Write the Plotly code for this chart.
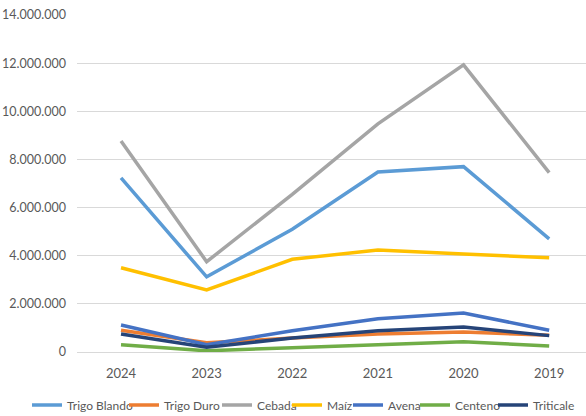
import plotly.graph_objects as go

years = ["2024", "2023", "2022", "2021", "2020", "2019"]
trigo_blando = [7230000, 3120000, 5100000, 7480000, 7700000, 4700000]
trigo_duro = [900000, 380000, 580000, 750000, 830000, 700000]
cebada = [8770000, 3750000, 6550000, 9480000, 11930000, 7450000]
maiz = [3500000, 2580000, 3850000, 4240000, 4070000, 3920000]
avena = [1120000, 300000, 880000, 1380000, 1620000, 900000]
centeno = [300000, 50000, 180000, 300000, 430000, 250000]
triticale = [750000, 200000, 580000, 880000, 1040000, 680000]

series = [
    ("Trigo Blando", trigo_blando, "#5B9BD5"),
    ("Trigo Duro", trigo_duro, "#ED7D31"),
    ("Cebada", cebada, "#A5A5A5"),
    ("Maíz", maiz, "#FFC000"),
    ("Avena", avena, "#4472C4"),
    ("Centeno", centeno, "#70AD47"),
    ("Triticale", triticale, "#264478"),
]
# x (px) where each legend entry's label text starts
legend_text_x = [67, 164, 257, 327, 388, 455, 533]

W, H = 586, 416
fig = go.Figure()
legends = {}
for i, (name, vals, color) in enumerate(series):
    key = "legend" if i == 0 else f"legend{i+1}"
    fig.add_trace(go.Scatter(x=years, y=vals, name=name, mode="lines",
                             line=dict(color=color, width=3.5), legend=key))
    legends[key] = dict(orientation="h", xref="container", yref="container",
                        x=(legend_text_x[i] - 40) / W, xanchor="left",
                        y=(H - 405) / H, yanchor="middle",
                        bgcolor="rgba(0,0,0,0)", borderwidth=0,
                        font=dict(family="Lato", size=12, color="#595959"),
                        itemwidth=30, itemclick=False, itemdoubleclick=False)

fig.update_layout(
    width=W, height=H,
    margin=dict(l=77, r=0, t=15, b=64, autoexpand=False),
    paper_bgcolor="white", plot_bgcolor="white",
    separators=",.",
    font=dict(family="Lato", size=13, color="#595959"),
    showlegend=True,
    xaxis=dict(type="category", range=[-0.514, 5.43], showgrid=False,
               showline=False, ticks="", ticklabelstandoff=12,
               tickfont=dict(size=13)),
    yaxis=dict(range=[0, 14000000], dtick=2000000, tickformat=",d",
               gridcolor="#D9D9D9", gridwidth=1, zeroline=True,
               zerolinecolor="#D9D9D9", zerolinewidth=1, showline=False,
               ticks="", ticklabelstandoff=10, tickfont=dict(size=12.5)),
    **legends,
)

fig.write_html("out.html", config={"displayModeBar": False},
               post_script="document.body.style.margin='0px';")
